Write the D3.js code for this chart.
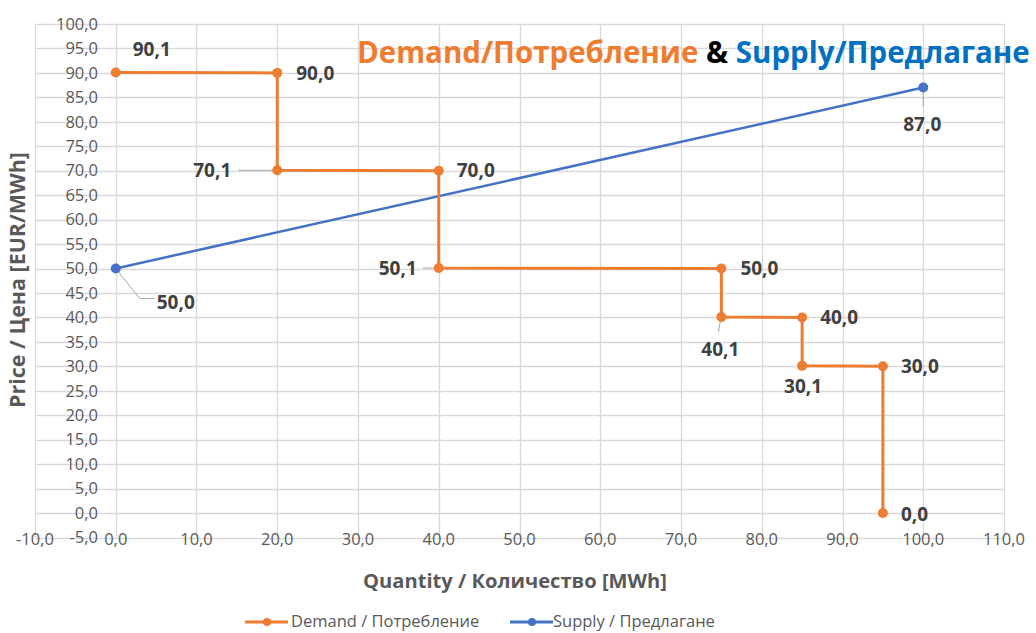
<!DOCTYPE html>
<html><head><meta charset="utf-8">
<script src="https://cdn.jsdelivr.net/npm/d3@7"></script>
<style>body{margin:0;background:#fff;} svg{display:block;}</style>
</head><body>
<script>
// ---- data ----
const demandQty   = [0, 20, 20, 40, 40, 75, 75, 85, 85, 95, 95];
const demandPrice = [90.1, 90.0, 70.1, 70.0, 50.1, 50.0, 40.1, 40.0, 30.1, 30.0, 0.0];
const supplyQty   = [0, 100];
const supplyPrice = [50.0, 87.0];
const xTickValues = [-10, 0, 10, 20, 30, 40, 50, 60, 70, 80, 90, 100, 110];
const yTickValues = [-5, 0, 5, 10, 15, 20, 25, 30, 35, 40, 45, 50, 55, 60, 65, 70, 75, 80, 85, 90, 95, 100];
const seriesNames = ["Demand / Потребление", "Supply / Предлагане"];
const titleParts  = ["Demand/Потребление", " & ", "Supply/Предлагане"];
const xTitle = "Quantity / Количество [MWh]";
const yTitle = "Price / Цена [EUR/MWh]";

// label placement (layout only): [dx, dy, anchor, leader]
const demandLabelPos = [
  [17,-23,"start",null],[19,0,"start",null],[-46,0,"end",[[-39,0],[-5,0]]],[18,0,"start",null],
  [-22,0,"end",[[-16,0],[-4,0]]],[19,0,"start",null],[-1,32,"middle",[[-1,4],[-3,15]]],[18,0,"start",null],
  [1,21,"middle",null],[18,0,"start",null],[18,1,"start",null]
];
const supplyLabelPos = [
  [41,34,"start",[[0,0],[24,30],[39,30]]],
  [-1,37,"middle",[[0,4],[0,19]]]
];

const W = 1036, H = 633;
const fmt = v => d3.format(".1f")(v).replace(".", ",").replace("\u2212", "-");
const svg = d3.select("body").append("svg").attr("width", W).attr("height", H);

const x = d3.scaleLinear().domain([-10, 110]).range([35, 1004]);
const y = d3.scaleLinear().domain([-5, 100]).range([537.5, 24]);

const font = "'Open Sans', 'Noto Sans', sans-serif";
function fit(sel, size, target) {
  const l = sel.node().getComputedTextLength();
  sel.attr("font-size", size * target / l);
}

const grid = svg.append("g").attr("stroke", "#d9d9d9").attr("stroke-width", 1.3);
grid.selectAll("line.v").data(xTickValues).join("line")
  .attr("x1", d => Math.round(x(d)) + 0.5).attr("x2", d => Math.round(x(d)) + 0.5)
  .attr("y1", y(100)).attr("y2", y(-5));
grid.selectAll("line.h").data(yTickValues).join("line")
  .attr("y1", d => Math.round(y(d)) + 0.5).attr("y2", d => Math.round(y(d)) + 0.5)
  .attr("x1", x(-10)).attr("x2", x(110));

// tick labels
svg.append("g").selectAll("text").data(yTickValues).join("text")
  .attr("x", 98).attr("y", d => y(d)).attr("dy", "0.35em")
  .attr("text-anchor", "end").attr("font-family", font).attr("font-size", 16.5)
  .attr("fill", "#595959").text(fmt);
svg.append("g").selectAll("text").data(xTickValues).join("text")
  .attr("x", d => x(d)).attr("y", 539).attr("dy", "0.35em")
  .attr("text-anchor", "middle").attr("font-family", font).attr("font-size", 16.5)
  .attr("fill", "#595959").text(fmt);

// axis titles
const xt = svg.append("text").attr("x", 515).attr("y", 588).attr("text-anchor", "middle")
  .attr("font-family", font).attr("font-weight", "bold").attr("font-size", 18)
  .attr("fill", "#595959").text(xTitle);
fit(xt, 18, 304);
const yt = svg.append("text").attr("transform", "translate(25,280) rotate(-90)").attr("text-anchor", "middle")
  .attr("font-family", font).attr("font-weight", "bold").attr("font-size", 18)
  .attr("fill", "#595959").text(yTitle);
fit(yt, 18, 256);

// series
const demand = demandQty.map((q, i) => ({q, p: demandPrice[i]}));
const supply = supplyQty.map((q, i) => ({q, p: supplyPrice[i]}));
const line = d3.line().x(d => x(d.q)).y(d => y(d.p));
const colors = ["#ED7D31", "#4472C4"];

function drawLeaders(data, pos) {
  data.forEach((d, i) => {
    const l = pos[i][3];
    if (!l) return;
    svg.append("polyline")
      .attr("points", l.map(o => [x(d.q) + o[0], y(d.p) + o[1]].join(",")).join(" "))
      .attr("fill", "none").attr("stroke", "#a6a6a6").attr("stroke-width", 1);
  });
}
drawLeaders(demand, demandLabelPos);
drawLeaders(supply, supplyLabelPos);

svg.append("path").datum(supply).attr("d", line).attr("fill", "none")
  .attr("stroke", colors[1]).attr("stroke-width", 2.5);
svg.append("g").selectAll("circle").data(supply).join("circle")
  .attr("cx", d => x(d.q)).attr("cy", d => y(d.p)).attr("r", 5).attr("fill", colors[1]);

svg.append("path").datum(demand).attr("d", line).attr("fill", "none")
  .attr("stroke", colors[0]).attr("stroke-width", 3);
svg.append("g").selectAll("circle").data(demand).join("circle")
  .attr("cx", d => x(d.q)).attr("cy", d => y(d.p)).attr("r", 5).attr("fill", colors[0]);

function drawLabels(data, pos) {
  svg.append("g").selectAll("text").data(data).join("text")
    .attr("x", (d, i) => x(d.q) + pos[i][0]).attr("y", (d, i) => y(d.p) + pos[i][1])
    .attr("dy", "0.35em").attr("text-anchor", (d, i) => pos[i][2])
    .attr("font-family", font).attr("font-weight", "bold").attr("font-size", 19)
    .attr("fill", "#404040").text(d => fmt(d.p));
}
drawLabels(demand, demandLabelPos);
drawLabels(supply, supplyLabelPos);

// title
const title = svg.append("text").attr("x", 357).attr("y", 63)
  .attr("font-family", font).attr("font-weight", "bold").attr("font-size", 26);
const tColors = ["#ED7D31", "#000000", "#0070C0"];
titleParts.forEach((t, i) => title.append("tspan").attr("fill", tColors[i]).style("white-space", "pre").text(t));
fit(title, 26, 673);

// legend
const legend = [[245, 291], [510, 553]];
seriesNames.forEach((n, i) => {
  const [lx, tx] = legend[i];
  svg.append("line").attr("x1", lx).attr("x2", lx + 43).attr("y1", 622).attr("y2", 622)
    .attr("stroke", colors[i]).attr("stroke-width", 3);
  svg.append("circle").attr("cx", lx + 22).attr("cy", 622).attr("r", 4).attr("fill", colors[i]);
  svg.append("text").attr("x", tx).attr("y", 621).attr("dy", "0.35em")
    .attr("font-family", font).attr("font-size", 16.5).attr("fill", "#595959").text(n);
});
</script>
</body></html>
